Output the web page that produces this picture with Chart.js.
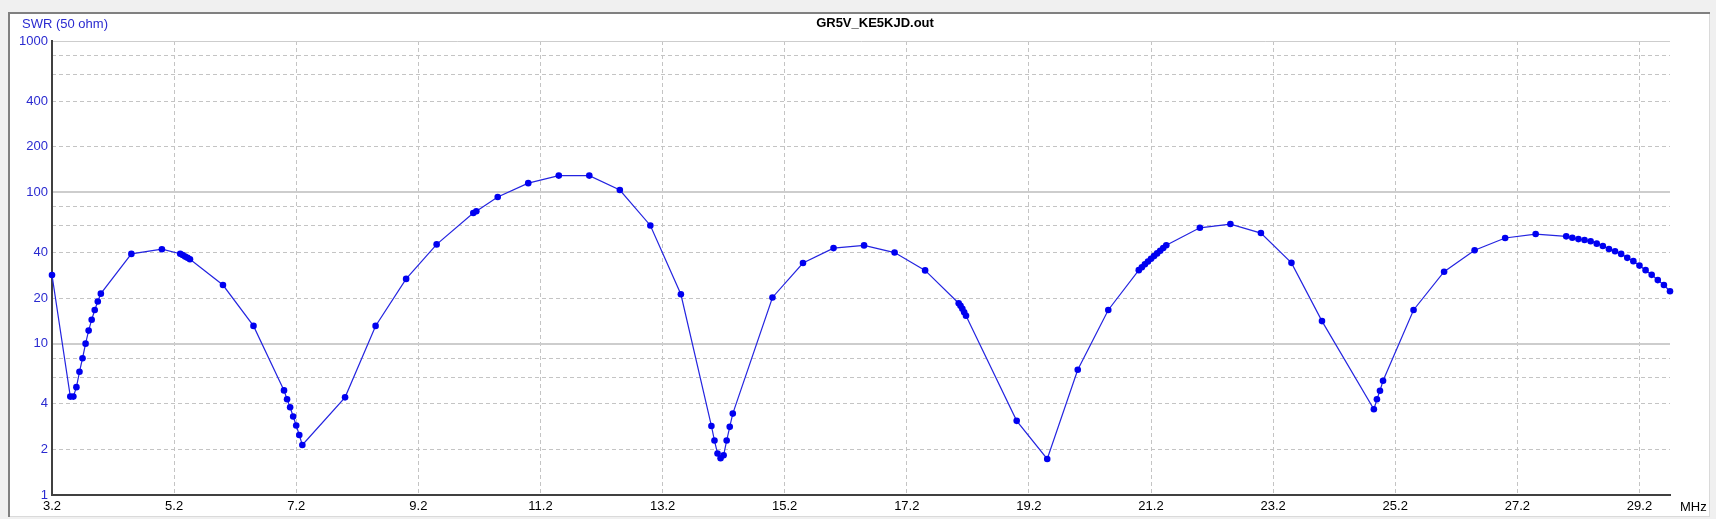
<!DOCTYPE html>
<html>
<head>
<meta charset="utf-8">
<script src="https://cdn.jsdelivr.net/npm/chart.js@4"></script>
<style>
  html, body { margin: 0; padding: 0; background: #f0f0f0; }
  #wrap { width: 1716px; height: 519px; position: relative; }
</style>
</head>
<body>
<div id="wrap"><canvas id="swrChart"></canvas></div>
<script>
// frequências (MHz) e SWR
const freqs = [
    3.2, 3.5, 3.55, 3.6, 3.65, 3.7, 3.75, 3.8, 3.85, 3.9, 3.95, 4.0,
    4.5, 5.0, 5.3, 5.34, 5.38, 5.42, 5.46, 6.0, 6.5,
    7.0, 7.05, 7.1, 7.15, 7.2, 7.25, 7.3,
    8.0, 8.5, 9.0, 9.5, 10.1, 10.15, 10.5, 11.0, 11.5, 12.0, 12.5, 13.0, 13.5,
    14.0, 14.05, 14.1, 14.15, 14.2, 14.25, 14.3, 14.35,
    15.0, 15.5, 16.0, 16.5, 17.0, 17.5,
    18.05, 18.08, 18.11, 18.14, 18.17,
    19.0, 19.5, 20.0, 20.5,
    21.0, 21.05, 21.1, 21.15, 21.2, 21.25, 21.3, 21.35, 21.4, 21.45,
    22.0, 22.5, 23.0, 23.5, 24.0,
    24.85, 24.9, 24.95, 25.0,
    25.5, 26.0, 26.5, 27.0, 27.5,
    28.0, 28.1, 28.2, 28.3, 28.4, 28.5, 28.6, 28.7, 28.8, 28.9,
    29.0, 29.1, 29.2, 29.3, 29.4, 29.5, 29.6, 29.7
];
const swr = [
    28.4, 4.47, 4.47, 5.16, 6.52, 8.01, 10.0, 12.2, 14.4, 16.7, 19.0, 21.4,
    39.2, 42.1, 39.3, 38.5, 37.6, 36.9, 36.1, 24.4, 13.1,
    4.91, 4.29, 3.80, 3.30, 2.88, 2.49, 2.14,
    4.42, 13.1, 26.8, 45.3, 73.1, 75.0, 93.2, 115, 129, 129, 103.6, 60.4, 21.2,
    2.86, 2.29, 1.88, 1.75, 1.83, 2.29, 2.82, 3.45,
    20.2, 34.1, 42.8, 44.6, 40.0, 30.5,
    18.5, 17.8, 17.0, 16.1, 15.3,
    3.09, 1.73, 6.72, 16.7,
    30.6, 32.0, 33.5, 34.9, 36.4, 37.9, 39.5, 41.1, 42.9, 44.7,
    58.3, 61.7, 53.8, 34.2, 14.1,
    3.69, 4.29, 4.89, 5.69,
    16.7, 29.9, 41.4, 49.9, 53.0,
    51.2, 50.1, 49.1, 48.4, 47.5, 45.8, 44.2, 42.2, 40.8, 39.2,
    36.9, 35.1, 32.8, 30.6, 28.5, 26.3, 24.4, 22.2
];

const xTicks = [3.2, 5.2, 7.2, 9.2, 11.2, 13.2, 15.2, 17.2, 19.2, 21.2, 23.2, 25.2, 27.2, 29.2];
const yTicks = [1, 2, 4, 10, 20, 40, 100, 200, 400, 1000];
const yMinorTicks = [2, 4, 6, 8, 20, 40, 60, 80, 200, 400, 600, 800];
const decades = [10, 100, 1000];

const chartTitle = 'GR5V_KE5KJD.out';
const yTitle = 'SWR (50 ohm)';
const xUnit = 'MHz';

const blueText = '#2a2ad0';
const gridGrey = '#cdcdcd';

Chart.defaults.font.family = '"Liberation Sans", Arial, sans-serif';
Chart.defaults.font.size = 13;

// painel de fundo + textos fixos
const panelPlugin = {
    id: 'panel',
    beforeDraw(chart) {
        const ctx = chart.ctx;
        ctx.save();
        ctx.fillStyle = '#f0f0f0';
        ctx.fillRect(0, 0, chart.width, chart.height);
        ctx.fillStyle = '#ffffff';
        ctx.fillRect(9, 13, 1700, 503);
        ctx.lineWidth = 1;
        ctx.strokeStyle = '#dadada';
        ctx.strokeRect(9.5, 13.5, 1700, 503);
        ctx.strokeStyle = '#808080';
        ctx.lineWidth = 2;
        ctx.beginPath();
        ctx.moveTo(9, 517);
        ctx.lineTo(9, 13);
        ctx.lineTo(1710, 13);
        ctx.stroke();
        ctx.restore();
    },
    afterDraw(chart) {
        const ctx = chart.ctx;
        ctx.save();
        ctx.textBaseline = 'middle';
        ctx.fillStyle = '#000';
        ctx.textAlign = 'center';
        ctx.font = 'bold 13px "Liberation Sans", Arial, sans-serif';
        ctx.fillText(chartTitle, 875, 23);
        ctx.font = '13px "Liberation Sans", Arial, sans-serif';
        ctx.fillStyle = blueText;
        ctx.textAlign = 'left';
        ctx.fillText(yTitle, 22, 24);
        ctx.fillStyle = '#000';
        ctx.fillText(xUnit, 1680, 507);
        ctx.restore();
    }
};

const ctx = document.getElementById('swrChart').getContext('2d');
new Chart(ctx, {
    type: 'line',
    data: {
        datasets: [{
            label: 'SWR',
            data: freqs.map((f, i) => ({ x: f, y: swr[i] })),
            borderColor: '#2424e0',
            borderWidth: 1.2,
            pointRadius: 3.3,
            pointBackgroundColor: '#0000f0',
            pointBorderColor: '#0000f0',
            pointBorderWidth: 0,
            tension: 0,
            clip: false
        }]
    },
    options: {
        responsive: true,
        maintainAspectRatio: false,
        devicePixelRatio: 1,
        animation: false,
        layout: { padding: { left: 0, top: 41, right: 46, bottom: 0 } },
        plugins: {
            legend: { display: false },
            tooltip: { enabled: false },
            title: { display: false }
        },
        scales: {
            x: {
                type: 'linear',
                min: 3.2,
                max: 29.7,
                afterBuildTicks: scale => { scale.ticks = xTicks.map(v => ({ value: v })); },
                afterFit: scale => { scale.height = 24; },
                ticks: {
                    color: '#000',
                    padding: 4,
                    autoSkip: false,
                    maxRotation: 0,
                    callback: v => v.toFixed(1)
                },
                grid: { color: '#c4c4c4', lineWidth: 1, drawTicks: false },
                border: { display: true, color: '#404040', width: 2, dash: [4, 3] }
            },
            yMinor: {
                type: 'logarithmic',
                position: 'left',
                min: 1,
                max: 1000,
                afterBuildTicks: scale => { scale.ticks = yMinorTicks.map(v => ({ value: v })); },
                afterFit: scale => { scale.width = 0; },
                ticks: { display: false },
                grid: { color: '#c4c4c4', lineWidth: 1, drawTicks: false },
                border: { display: false, dash: [4, 3] }
            },
            y: {
                type: 'logarithmic',
                position: 'left',
                min: 1,
                max: 1000,
                afterBuildTicks: scale => { scale.ticks = yTicks.map(v => ({ value: v })); },
                afterFit: scale => { scale.width = 52; },
                ticks: {
                    color: blueText,
                    padding: 4,
                    autoSkip: false,
                    callback: v => String(v)
                },
                grid: {
                    drawTicks: false,
                    color: c => decades.includes(c.tick && c.tick.value) ? gridGrey : 'rgba(0,0,0,0)',
                    lineWidth: c => (c.tick && c.tick.value === 1000) ? 1 : 2
                },
                border: { display: true, color: '#404040', width: 2 }
            }
        }
    },
    plugins: [panelPlugin]
});
</script>
</body>
</html>
